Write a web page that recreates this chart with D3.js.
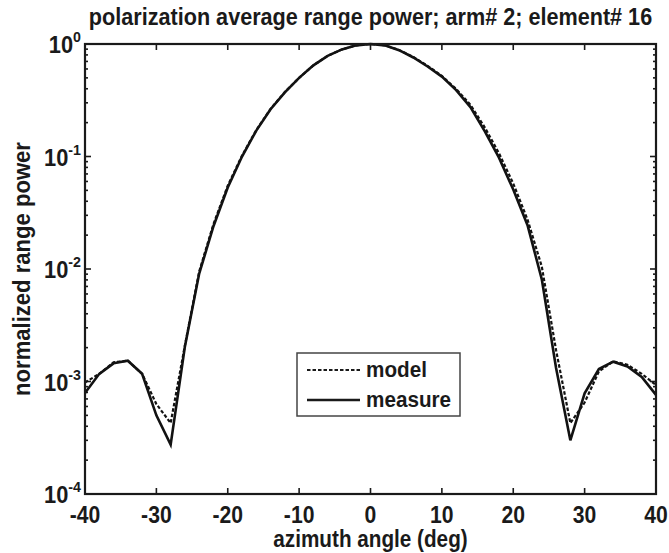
<!DOCTYPE html>
<html lang="en">
	<head>
		<meta charset="UTF-8" />
		<title>polarization average range power</title>
		<script src="https://d3js.org/d3.v7.min.js"></script>
		<style>
			html,
			body {
				margin: 0;
				background: #fff;
			}
			svg {
				display: block;
				font-family: 'Liberation Sans', Arial, sans-serif;
				font-weight: bold;
			}
			.line {
				fill: none;
				stroke: #121212;
			}
		</style>
	</head>
	<body>
		<svg id="chart" width="669" height="553"></svg>
		<script>
			// azimuth angles, 2 deg steps
			const angles = d3.range(-40, 41, 2);

			// measured normalized range power
			const measure = [
				7.9e-4, 1.17e-3, 1.45e-3, 1.53e-3, 1.17e-3, 5.0e-4, 2.75e-4, 2.05e-3,
				9.1e-3, 0.024, 0.053, 0.1, 0.17, 0.263, 0.372, 0.5, 0.646, 0.785, 0.895,
				0.973, 1.0, 0.973, 0.881, 0.759, 0.631, 0.513, 0.389, 0.275, 0.168,
				0.0977, 0.0508, 0.0245, 8.1e-3, 1.32e-3, 3.0e-4, 7.85e-4, 1.29e-3,
				1.5e-3, 1.36e-3, 1.1e-3, 7.6e-4,
			];

			// model normalized range power
			const model = [
				9.8e-4, 1.17e-3, 1.48e-3, 1.53e-3, 1.17e-3, 6.3e-4, 4.27e-4, 2.1e-3,
				9.5e-3, 0.0251, 0.055, 0.102, 0.172, 0.265, 0.374, 0.5, 0.646, 0.785,
				0.895, 0.973, 1.0, 0.975, 0.885, 0.765, 0.64, 0.52, 0.398, 0.288, 0.182,
				0.107, 0.0575, 0.0275, 0.0105, 1.9e-3, 4.27e-4, 6.5e-4, 1.23e-3,
				1.51e-3, 1.41e-3, 1.17e-3, 9.3e-4,
			];

			const xTicks = d3.range(-40, 41, 10);
			const yTickExps = [0, -1, -2, -3, -4];

			const svg = d3.select('#chart');
			const width = +svg.attr('width');
			const height = +svg.attr('height');
			const margin = { top: 44, right: 13, bottom: 59, left: 85 };
			const plotL = margin.left;
			const plotR = width - margin.right;
			const plotT = margin.top;
			const plotB = height - margin.bottom;

			const x = d3.scaleLinear().domain([-40, 40]).range([plotL, plotR]);
			const y = d3.scaleLog().domain([1e-4, 1]).range([plotB, plotT]);

			const ink = '#1a1a1a';

			// the original lettering is a bit narrow, so squeeze it horizontally
			const label = (parent, { tx, ty, size, sx = 1, rot = 0, anchor = 'middle', text }) =>
				parent
					.append('text')
					.attr('transform', `translate(${tx},${ty}) rotate(${rot}) scale(${sx},1)`)
					.attr('text-anchor', anchor)
					.attr('font-size', size)
					.attr('fill', ink)
					.text(text);

			// inward ticks on all four sides
			const isMajor = (v) => Math.abs(Math.log10(v) - Math.round(Math.log10(v))) < 1e-6;
			const minorY = y.ticks().filter((v) => !isMajor(v));

			const tickG = svg.append('g').attr('stroke', ink).attr('stroke-width', 1.6);
			xTicks.forEach((t) => {
				tickG.append('line').attr('x1', x(t)).attr('x2', x(t)).attr('y1', plotB).attr('y2', plotB - 6);
				tickG.append('line').attr('x1', x(t)).attr('x2', x(t)).attr('y1', plotT).attr('y2', plotT + 6);
			});
			yTickExps.forEach((e) => {
				const yy = y(Math.pow(10, e));
				tickG.append('line').attr('x1', plotL).attr('x2', plotL + 6).attr('y1', yy).attr('y2', yy);
				tickG.append('line').attr('x1', plotR).attr('x2', plotR - 6).attr('y1', yy).attr('y2', yy);
			});
			minorY.forEach((v) => {
				const yy = y(v);
				tickG.append('line').attr('x1', plotL).attr('x2', plotL + 3).attr('y1', yy).attr('y2', yy);
				tickG.append('line').attr('x1', plotR).attr('x2', plotR - 3).attr('y1', yy).attr('y2', yy);
			});

			// curves
			const line = d3
				.line()
				.x((d, i) => x(angles[i]))
				.y((d) => y(d));

			svg
				.append('path')
				.attr('class', 'line')
				.attr('d', line(model))
				.attr('stroke-width', 2.2)
				.attr('stroke-dasharray', '3.5,2');

			svg
				.append('path')
				.attr('class', 'line')
				.attr('d', line(measure))
				.attr('stroke-width', 2.6);

			// axes box
			svg
				.append('rect')
				.attr('x', plotL)
				.attr('y', plotT)
				.attr('width', plotR - plotL)
				.attr('height', plotB - plotT)
				.attr('fill', 'none')
				.attr('stroke', ink)
				.attr('stroke-width', 2.2);

			// x tick labels
			const xLab = svg.append('g');
			xTicks.forEach((t) =>
				label(xLab, { tx: x(t), ty: plotB + 29, size: 23, sx: 0.92, text: t }),
			);

			// y tick labels 10^n
			const yLab = svg
				.append('g')
				.selectAll('text')
				.data(yTickExps)
				.join('text')
				.attr('transform', (d) => `translate(${plotL - 4},${y(Math.pow(10, d)) + 9}) scale(0.95,1)`)
				.attr('text-anchor', 'end')
				.attr('font-size', 23)
				.attr('fill', ink);
			yLab.append('tspan').text('10');
			yLab
				.append('tspan')
				.attr('dy', -11)
				.attr('font-size', 15)
				.text((d) => d);

			// title and axis labels
			label(svg, {
				tx: (plotL + plotR) / 2,
				ty: 25,
				size: 23,
				sx: 0.94,
				text: 'polarization average range power; arm# 2; element# 16',
			});
			label(svg, {
				tx: (plotL + plotR) / 2,
				ty: 547,
				size: 23,
				sx: 0.9,
				text: 'azimuth angle (deg)',
			});
			label(svg, {
				tx: 30,
				ty: (plotT + plotB) / 2,
				size: 23,
				sx: 0.96,
				rot: -90,
				text: 'normalized range power',
			});

			// legend
			const legend = svg.append('g').attr('transform', 'translate(297,353)');
			legend
				.append('rect')
				.attr('width', 163)
				.attr('height', 63)
				.attr('fill', '#fff')
				.attr('stroke', '#444')
				.attr('stroke-width', 1.5);
			const items = [
				{ name: 'model', dash: '3.5,2', w: 2.2 },
				{ name: 'measure', dash: null, w: 2.6 },
			];
			items.forEach((it, i) => {
				const yy = 17 + i * 30;
				legend
					.append('line')
					.attr('x1', 10)
					.attr('x2', 63)
					.attr('y1', yy)
					.attr('y2', yy)
					.attr('stroke', ink)
					.attr('stroke-width', it.w)
					.attr('stroke-dasharray', it.dash);
				label(legend, { tx: 69, ty: yy + 7, size: 22, sx: 0.94, anchor: 'start', text: it.name });
			});
		</script>
	</body>
</html>
